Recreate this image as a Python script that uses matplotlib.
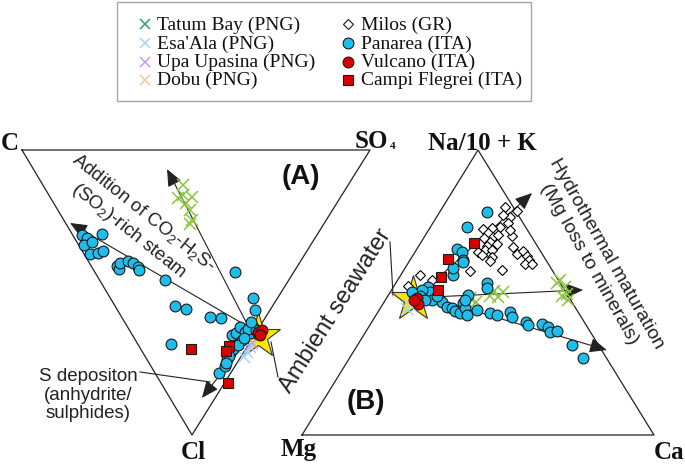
import numpy as np
import matplotlib
matplotlib.use("Agg")
import matplotlib.pyplot as plt
from matplotlib.transforms import Affine2D
from matplotlib.patches import Rectangle

plt.rcParams['mathtext.fontset'] = 'custom'
plt.rcParams['mathtext.rm'] = 'Liberation Sans'
plt.rcParams['mathtext.it'] = 'Liberation Sans:italic'
plt.rcParams['mathtext.bf'] = 'Liberation Sans:bold'

# ---------------- DATA ----------------
# Diagram A : ternary C - SO4 - Cl (percent; C = 100 - SO4 - Cl)
panarea_A_so4 = [2.7, 3.6, 1.5, 4.3, 1.7, 4.2, 6.0, 8.6, 7.4, 7.5, 8.8, 11.4, 12.5, 13.3, 13.0,
                 18.8, 17.2, 19.9, 25.4, 28.4, 40.3, 41.0, 39.5, 9.6, 18.4, 21.3, 23.1, 25.0,
                 26.5, 28.1, 28.6, 30.1, 32.3, 32.9, 34.1, 36.0, 30.7, 28.6, 24.2, 34.3, 36.4,
                 31.6, 22.1, 36.3, 36.3]
panarea_A_cl = [29.8, 30.9, 33.3, 32.3, 36.5, 36.1, 35.4, 29.5, 40.7, 41.8, 39.6, 38.9, 39.6, 41.1,
                42.1, 45.6, 54.7, 55.8, 58.6, 58.9, 42.8, 51.9, 56.1, 68.1, 78.2, 75.8, 73.3, 71.2,
                69.8, 67.7, 64.9, 64.2, 62.1, 63.9, 64.2, 62.1, 66.7, 68.4, 72.3, 62.8, 63.2,
                66.0, 74.7, 60.4, 64.6]
vulcano_A_so4 = [36.6, 38.1, 36.7]
vulcano_A_cl = [63.9, 63.2, 64.9]
campi_A_so4 = [14.5, 25.9, 24.2, 19.3]
campi_A_cl = [69.8, 68.8, 70.5, 81.8]
tatum_A_so4 = [40.3, 36.6, 38.6, 40.8, 38.0, 36.8, 35.6, 38.0]
tatum_A_cl = [12.3, 16.8, 15.8, 16.5, 21.1, 24.6, 26.0, 18.6]
esaala_A_so4 = [30.0, 28.3, 31.8]
esaala_A_cl = [70.9, 72.6, 69.1]
upa_A_so4 = [33.0]
upa_A_cl = [67.7]
seawater_A_so4 = [35.9]
seawater_A_cl = [65.3]

# Diagram B : ternary Na/10+K - Mg - Ca (percent; Mg = 100 - Ca - NaK)
milos_B_ca = [17.7, 21.8, 20.9, 18.5, 21.3, 19.7, 17.7, 15.3, 17.4, 19.5, 24.7, 20.6, 17.1, 19.5,
              21.9, 19.4, 19.5, 21.5, 17.9, 19.5, 22.8, 22.9, 27.0, 29.3, 30.5, 32.5, 33.8, 33.4,
              35.3, 27.9, 18.9, 9.7, 5.5, 4.0, 23.1]
milos_B_nak = [80.0, 78.6, 76.5, 77.2, 74.4, 73.0, 72.6, 72.3, 70.9, 69.5, 69.8, 70.2, 69.1, 67.7,
               67.0, 66.3, 64.9, 64.9, 64.2, 63.2, 62.5, 61.1, 66.0, 63.5, 64.6, 62.8, 61.4, 60.0,
               60.0, 57.9, 57.5, 54.4, 56.1, 52.3, 71.9]
panarea_B_ca = [13.4, 10.4, 11.4, 13.4, 15.0, 14.8, 25.9, 26.8, 9.8, 11.3, 8.7, 16.4, 18.8, 20.3,
                21.7, 23.5, 22.6, 24.0, 25.8, 27.8, 22.6, 22.6, 32.0, 34.3, 37.5, 38.9, 43.8, 44.9,
                48.7, 50.9, 52.4, 54.2, 60.9, 66.3, 13.6, 15.4, 9.1, 13.2, 13.9, 6.2, 11.3]
panarea_B_nak = [78.2, 73.0, 65.3, 64.2, 61.4, 56.1, 53.3, 51.6, 51.9, 50.2, 50.9, 46.7, 44.9, 44.6,
                 43.5, 42.8, 46.3, 44.6, 42.1, 43.9, 49.1, 47.4, 42.8, 42.1, 43.2, 41.4, 39.6, 38.6,
                 38.9, 37.9, 36.1, 36.5, 31.6, 27.0, 58.6, 60.7, 48.8, 47.4, 48.8, 50.2, 47.4]
campi_B_ca = [15.2, 10.6, 11.8, 13.2]
campi_B_nak = [67.4, 61.8, 55.4, 50.9]
vulcano_B_ca = [8.6, 10.0, 8.1]
vulcano_B_nak = [48.1, 46.0, 47.4]
tatum_B_ca = [23.7, 26.1, 29.0, 29.3, 32.0, 31.5, 46.1, 48.8, 50.5, 51.9, 49.5, 45.8]
tatum_B_nak = [48.1, 46.7, 48.8, 50.5, 50.2, 48.4, 54.4, 51.9, 49.5, 47.4, 48.8, 53.3]
esaala_B_ca = [7.9, 7.7]
esaala_B_nak = [45.6, 44.2]
seawater_B_ca = [7.7]
seawater_B_nak = [47.7]

# Trend arrows (start -> end), ternary percent
arrows_A = [((34.7, 63.2), (38.4, 6.7)), ((34.1, 61.4), (1.3, 25.6)), ((32.1, 66.7), (9.2, 87.0))]
arrows_B = [((8.6, 48.8), (22.9, 84.9)), ((12.2, 48.4), (54.4, 50.9)), ((14.7, 47.4), (71.7, 29.8))]

legend_left = ["Tatum Bay (PNG)", "Esa'Ala (PNG)", "Upa Upasina (PNG)", "Dobu (PNG)"]
legend_right = ["Milos (GR)", "Panarea (ITA)", "Vulcano (ITA)", "Campi Flegrei (ITA)"]

# ---------------- FIGURE ----------------
fig = plt.figure(figsize=(6.85, 4.67), dpi=100)
ax = fig.add_axes([0, 0, 1, 1])
ax.set_xlim(0, 685)
ax.set_ylim(467, 0)
ax.axis('off')

# ternary -> page transforms
TA = Affine2D(np.array([[3.48, 1.70, 22.0], [0.0, 2.85, 150.0], [0, 0, 1]])) + ax.transData
TB = Affine2D(np.array([[3.52, 1.76, 302.0], [0.0, -2.85, 435.0], [0, 0, 1]])) + ax.transData

frame = [0, 100, 0, 0], [0, 0, 100, 0]
ax.plot(*frame, transform=TA, color='#222222', lw=0.9, zorder=1)
ax.plot(*frame, transform=TB, color='#222222', lw=0.9, zorder=1)

for T, arrs in ((TA, arrows_A), (TB, arrows_B)):
    for (s, e) in arrs:
        ax.annotate('', xy=e, xytext=s, xycoords=T, textcoords=T,
                    arrowprops=dict(arrowstyle='-|>,head_length=0.75,head_width=0.32',
                                    mutation_scale=14, lw=0.8, color='#222222',
                                    shrinkA=0, shrinkB=0), zorder=2)

cyan = '#1DBEEB'
red = '#D90000'
lime = '#8CC63F'
esa_c = '#A8D4F8'
upa_c = '#C49BF0'

def draw(T, star, mil, tat, esa, upa, pan, cam, vul):
    ax.plot(*star, ls='none', marker='*', ms=34, mfc='#FFE600', mec='#333333', mew=0.8,
            transform=T, zorder=3)
    if mil is not None:
        ax.plot(*mil, ls='none', marker='D', ms=5.5, mfc='white', mec='black', mew=0.8,
                transform=T, zorder=4)
    ax.plot(*tat, ls='none', marker='x', ms=8, mec=lime, mew=1.1, transform=T, zorder=4)
    ax.plot(*esa, ls='none', marker='x', ms=8, mec=esa_c, mew=1.1, transform=T, zorder=4)
    if upa is not None:
        ax.plot(*upa, ls='none', marker='x', ms=8, mec=upa_c, mew=1.1, transform=T, zorder=4)
    ax.plot(*pan, ls='none', marker='o', ms=7.8, mfc=cyan, mec='#1a1a1a', mew=0.8,
            transform=T, zorder=5)
    ax.plot(*cam, ls='none', marker='s', ms=7.2, mfc=red, mec='#1a1a1a', mew=0.8,
            transform=T, zorder=6)
    ax.plot(*vul, ls='none', marker='o', ms=7.8, mfc=red, mec='#1a1a1a', mew=0.8,
            transform=T, zorder=7)

draw(TA, (seawater_A_so4, seawater_A_cl), None, (tatum_A_so4, tatum_A_cl),
     (esaala_A_so4, esaala_A_cl), (upa_A_so4, upa_A_cl), (panarea_A_so4, panarea_A_cl),
     (campi_A_so4, campi_A_cl), (vulcano_A_so4, vulcano_A_cl))
draw(TB, (seawater_B_ca, seawater_B_nak), (milos_B_ca, milos_B_nak), (tatum_B_ca, tatum_B_nak),
     (esaala_B_ca, esaala_B_nak), None, (panarea_B_ca, panarea_B_nak),
     (campi_B_ca, campi_B_nak), (vulcano_B_ca, vulcano_B_nak))

# ---------------- LABELS ----------------
vl = dict(fontfamily='Liberation Serif', fontweight='bold', fontsize=18, va='baseline',
          color='#111111')
ax.text(10, 150, 'C', ha='center', **vl)
ax.text(355, 148, 'SO', ha='left', **vl)
ax.text(390, 149, '4', ha='left', va='baseline', fontfamily='Liberation Serif',
        fontweight='bold', fontsize=8, color='#111111')
ax.text(482, 150, 'Na/10 + K', ha='center', **vl)
ax.text(193, 459, 'Cl', ha='center', **vl)
ax.text(299, 456, 'Mg', ha='center', **vl)
ax.text(669, 459, 'Ca', ha='center', **vl)

sans = 'Liberation Sans'
ax.text(301, 177, '(A)', ha='center', va='center', fontfamily=sans, fontweight='bold',
        fontsize=20, color='#111111')
ax.text(366, 402, '(B)', ha='center', va='center', fontfamily=sans, fontweight='bold',
        fontsize=20, color='#111111')

ax.text(136, 222, 'Addition of CO$_2$-H$_2$S-\n(SO$_2$)-rich steam', rotation=-38.6,
        rotation_mode='anchor', ha='center', va='center', multialignment='center',
        fontfamily=sans, fontsize=13.5, linespacing=1.2, color='#222222')
ax.text(88, 395, 'S depositon\n(anhydrite/\nsulphides)', ha='center', va='center',
        multialignment='center', fontfamily=sans, fontsize=13.5, linespacing=1.1,
        color='#222222')
ax.text(336, 311, 'Ambient seawater', rotation=57.6, rotation_mode='anchor', ha='center',
        va='center', fontfamily=sans, fontsize=17, color='#222222')
ax.text(598, 259, 'Hydrothermal maturation\n(Mg loss to minerals)', rotation=-60.5,
        rotation_mode='anchor', ha='center', va='center', multialignment='center',
        fontfamily=sans, fontsize=14, linespacing=1.2, color='#222222')

# leader lines
ax.plot([140, 210], [372, 382], color='#222222', lw=0.8, zorder=2)
ax.plot([278, 271], [377, 342], color='#222222', lw=0.8, zorder=2)
ax.plot([390, 393], [242, 295], color='#222222', lw=0.8, zorder=2)

# ---------------- LEGEND ----------------
ax.add_patch(Rectangle((117, 2), 414, 99, fill=False, edgecolor='#a6a6a6', lw=1.0, zorder=1))
rows = [24, 43, 61.5, 79.5]
left_cols = ['#2E9E6A', esa_c, upa_c, '#F8C896']
lt = dict(fontfamily='Liberation Serif', fontsize=14, va='center', ha='left', color='#111111')
for y, lab, c in zip(rows, legend_left, left_cols):
    ax.plot([145], [y], ls='none', marker='x', ms=7, mec=c, mew=1.1)
    ax.text(157, y + 1, lab, **lt)
rstyle = [dict(marker='D', ms=5.5, mfc='white'), dict(marker='o', ms=7.8, mfc=cyan),
          dict(marker='o', ms=7.8, mfc=red), dict(marker='s', ms=7.2, mfc=red)]
for y, lab, st in zip(rows, legend_right, rstyle):
    ax.plot([348], [y], ls='none', mec='#1a1a1a', mew=0.8, **st)
    ax.text(361, y + 1, lab, **lt)

fig.savefig('out.png', dpi=100)
